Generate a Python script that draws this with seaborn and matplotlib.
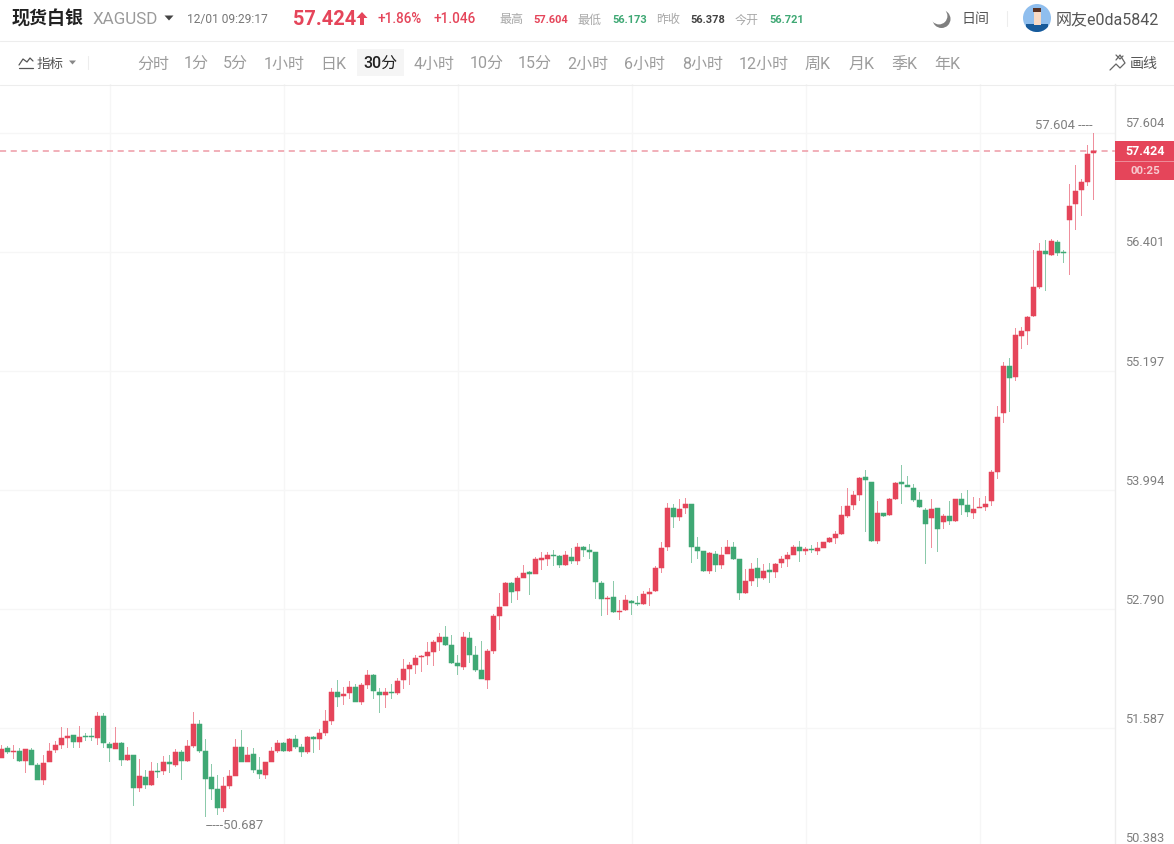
import numpy as np
import pandas as pd
import matplotlib
matplotlib.use("Agg")
import matplotlib.pyplot as plt
from matplotlib.patches import Rectangle, Circle, Polygon
import seaborn as sns

opens = [51.29,51.39,51.35,51.36,51.26,51.37,51.21,51.06,51.24,51.37,
 51.42,51.49,51.52,51.45,51.505,51.51,51.49,51.71,51.43,51.38,
 51.44,51.27,51.32,50.98,51.09,51.01,51.155,51.15,51.24,51.21,
 51.35,51.26,51.41,51.63,51.36,51.09,50.97,50.78,51.00,51.10,
 51.40,51.25,51.33,51.16,51.11,51.24,51.36,51.44,51.36,51.48,
 51.40,51.35,51.50,51.48,51.54,51.66,51.95,51.91,51.94,52.00,
 51.85,52.02,52.12,51.95,51.92,51.955,51.94,52.07,52.19,52.23,
 52.31,52.32,52.36,52.46,52.51,52.43,52.25,52.21,52.50,52.325,
 52.17,52.07,52.37,52.72,52.82,53.05,52.97,53.11,53.17,53.15,
 53.29,53.30,53.34,53.33,53.24,53.315,53.28,53.42,53.39,53.37,
 53.056,52.89,52.915,52.76,52.78,52.87,52.85,52.84,52.945,52.97,
 53.21,53.42,53.81,53.72,53.81,53.85,53.42,53.375,53.18,53.35,
 53.24,53.35,53.42,53.295,52.95,53.075,53.21,53.11,53.19,53.17,
 53.26,53.30,53.34,53.42,53.38,53.40,53.375,53.41,53.47,53.51,
 53.55,53.73,53.84,53.94,54.13,54.08,53.48,53.76,53.74,53.90,
 54.08,54.05,54.01,53.89,53.79,53.71,53.81,53.67,53.73,53.68,
 53.90,53.84,53.76,53.81,53.82,53.88,54.18,54.775,55.25,55.135,
 55.55,55.60,55.75,56.045,56.41,56.37,56.50,56.40,56.725,56.885,
 57.03,57.11,57.40]
closes = [51.38,51.35,51.36,51.26,51.38,51.21,51.06,51.23,51.36,51.42,
 51.49,51.51,51.45,51.50,51.495,51.50,51.71,51.44,51.39,51.44,
 51.27,51.32,50.98,51.10,51.01,51.15,51.145,51.24,51.22,51.35,
 51.26,51.41,51.63,51.36,51.07,50.97,50.78,51.00,51.10,51.40,
 51.24,51.32,51.16,51.12,51.24,51.36,51.44,51.36,51.48,51.40,
 51.35,51.50,51.48,51.54,51.66,51.95,51.90,51.93,52.00,51.85,
 52.02,52.12,51.96,51.92,51.95,51.945,52.06,52.19,52.23,52.30,
 52.32,52.355,52.46,52.51,52.43,52.25,52.22,52.51,52.33,52.17,
 52.08,52.37,52.72,52.81,53.05,52.96,53.10,53.16,53.15,53.295,
 53.305,53.34,53.33,53.24,53.34,53.28,53.42,53.39,53.37,53.06,
 52.89,52.905,52.76,52.77,52.88,52.85,52.84,52.94,52.96,53.21,
 53.41,53.81,53.72,53.80,53.85,53.42,53.38,53.18,53.36,53.24,
 53.34,53.42,53.30,52.95,53.07,53.20,53.11,53.18,53.17,53.25,
 53.295,53.335,53.42,53.38,53.40,53.39,53.41,53.47,53.51,53.55,
 53.74,53.83,53.94,54.12,54.10,53.48,53.76,53.73,53.90,54.07,
 54.06,54.02,53.89,53.82,53.65,53.80,53.605,53.73,53.68,53.90,
 53.84,53.77,53.80,53.82,53.855,54.18,54.73,55.25,55.13,55.56,
 55.60,55.745,56.05,56.41,56.385,56.51,56.395,56.39,56.87,57.02,
 57.105,57.39,57.424]
highs = [51.42,51.41,51.42,51.39,51.38,51.39,51.23,51.32,51.44,51.46,
 51.60,51.59,51.52,51.61,51.54,51.59,51.75,51.74,51.445,51.60,
 51.45,51.40,51.32,51.28,51.16,51.24,51.23,51.31,51.32,51.38,
 51.37,51.47,51.75,51.67,51.48,51.22,51.11,51.09,51.16,51.475,
 51.57,51.40,51.39,51.30,51.24,51.40,51.465,51.45,51.485,51.52,
 51.43,51.51,51.51,51.58,51.775,51.99,52.07,52.00,52.06,52.03,
 52.04,52.17,52.13,51.99,51.99,52.035,52.09,52.29,52.26,52.33,
 52.33,52.46,52.48,52.55,52.62,52.53,52.33,52.56,52.56,52.42,
 52.47,52.39,52.74,52.95,53.06,53.06,53.13,53.24,53.18,53.32,
 53.37,53.37,53.39,53.34,53.38,53.41,53.46,53.43,53.45,53.37,
 53.07,52.92,53.07,52.885,52.935,52.88,52.92,52.97,53.00,53.23,
 53.47,53.86,53.85,53.90,53.91,53.85,53.52,53.38,53.37,53.375,
 53.42,53.49,53.47,53.30,53.20,53.26,53.305,53.25,53.26,53.26,
 53.33,53.365,53.44,53.48,53.42,53.44,53.47,53.47,53.52,53.58,
 53.83,54.01,53.985,54.13,54.20,54.08,53.88,53.76,53.91,54.08,
 54.25,54.14,54.06,53.97,53.81,53.90,53.81,53.75,53.88,53.90,
 53.96,53.99,53.925,53.91,53.935,54.20,54.84,55.29,55.33,55.63,
 55.64,55.75,56.42,56.49,56.52,56.53,56.52,56.42,57.09,57.28,
 57.14,57.48,57.604]
lows = [51.29,51.33,51.28,51.24,51.13,51.21,51.06,51.01,51.24,51.34,
 51.38,51.39,51.39,51.39,51.46,51.46,51.42,51.39,51.25,51.38,
 51.20,51.26,50.80,50.94,50.97,51.00,51.08,51.11,51.13,51.19,
 51.06,51.25,51.39,51.34,50.687,50.86,50.71,50.74,50.97,51.10,
 51.24,51.24,51.13,51.07,51.07,51.24,51.34,51.35,51.35,51.38,
 51.30,51.33,51.34,51.37,51.51,51.62,51.80,51.82,51.88,51.85,
 51.82,51.98,51.88,51.74,51.79,51.88,51.92,51.98,52.025,52.13,
 52.15,52.23,52.22,52.37,52.42,52.24,52.12,52.17,52.25,52.15,
 52.08,51.98,52.34,52.58,52.82,52.85,52.88,53.10,52.935,53.15,
 53.19,53.23,53.23,53.21,53.225,53.245,53.24,53.32,53.30,52.89,
 52.72,52.73,52.75,52.685,52.77,52.73,52.82,52.83,52.82,52.96,
 53.16,53.375,53.615,53.68,53.75,53.26,53.30,53.17,53.15,53.17,
 53.20,53.35,53.29,52.88,52.94,53.02,53.01,53.08,53.05,53.11,
 53.21,53.22,53.34,53.27,53.34,53.36,53.34,53.41,53.46,53.45,
 53.54,53.71,53.79,53.88,53.57,53.47,53.45,53.72,53.73,53.89,
 53.85,54.02,53.87,53.81,53.25,53.41,53.37,53.60,53.64,53.675,
 53.74,53.72,53.70,53.81,53.78,53.83,54.11,54.67,54.78,55.10,
 55.42,55.465,55.74,56.03,56.01,56.36,56.365,56.29,56.17,56.62,
 56.76,57.07,56.93]

axis_ticks = [57.604, 56.401, 55.197, 53.994, 52.790, 51.587, 50.383]
session_marks = [18, 47, 76, 105, 134, 163]
tabs = ["分时","1分","5分","1小时","日K","30分","4小时","10分","15分","2小时",
        "6小时","8小时","12小时","周K","月K","季K","年K"]
tab_centers = [153,196,235.5,284,333.5,380,434.5,487,535,587.5,644.5,702.5,763.5,817.5,861.5,904.5,947.5]

RED = "#E5455A"
GREEN = "#3FA874"
GRID = "#F6F6F6"
LINE = "#EDEDED"
FONT = ["Roboto", "Noto Sans CJK SC", "DejaVu Sans"]

sns.set_theme(style="white")
plt.rcParams["font.family"] = FONT

W, H = 1174, 845
fig = plt.figure(figsize=(W / 100, H / 100), dpi=100, facecolor="white")

# Chart panel
ax = fig.add_axes([0, 0, 1115 / W, (H - 85) / H], facecolor="white")
df = pd.DataFrame({"k": np.arange(len(opens)), "open": opens, "close": closes,
                   "high": highs, "low": lows})
df["up"] = df["close"] >= df["open"]
df["bot"] = df[["open", "close"]].min(axis=1)
df["span"] = (df["open"] - df["close"]).abs()
df["range"] = df["high"] - df["low"]

for up, colour in [(True, RED), (False, GREEN)]:
    s = df[df["up"] == up]
    sns.barplot(x=s["k"].to_numpy(), y=s["range"].to_numpy(), bottom=s["low"].to_numpy(),
                native_scale=True, width=0.2, color=colour, saturation=1, alpha=0.6,
                errorbar=None, linewidth=0, ax=ax, zorder=3)
    sns.barplot(x=s["k"].to_numpy(), y=s["span"].to_numpy(), bottom=s["bot"].to_numpy(),
                native_scale=True, width=0.82, color=colour, saturation=1,
                errorbar=None, linewidth=0.35, edgecolor=colour, ax=ax, zorder=4)

last = closes[-1]
ax.axhline(last, color="#EE9AA5", lw=1.1, ls=(0, (4, 3)), zorder=2)
ax.set_xticks(session_marks)
ax.set_yticks(axis_ticks)
ax.set_xticklabels([])
ax.set_yticklabels([])
ax.set_xlim(-1.67 / 6, (1115 - 1.67) / 6)
ax.set_ylim(50.416, 58.099)
ax.tick_params(length=0)
ax.grid(True, color=GRID, lw=1)
ax.set_axisbelow(True)
ax.set_xlabel("")
ax.set_ylabel("")
sns.despine(ax=ax, left=True, bottom=True, top=True, right=False)
ax.spines["right"].set_color(LINE)
ax.spines["right"].set_linewidth(1)

for v in axis_ticks:
    ax.annotate(f"{v:.3f}", xy=(1, v), xycoords=("axes fraction", "data"),
                xytext=(7.2, 7.2), textcoords="offset points", ha="left", va="center",
                fontsize=9.2, color="#7F7F7F", annotation_clip=False)

i_hi = int(np.argmax(highs))
ax.annotate(f"{highs[i_hi]:.3f} ----", xy=(i_hi, highs[i_hi]), xytext=(-1, 5.8),
            textcoords="offset points", ha="right", va="center", fontsize=9.4, color="#7F7F7F")
i_lo = int(np.argmin(lows))
ax.annotate(f"-----{lows[i_lo]:.3f}", xy=(i_lo, lows[i_lo]), xytext=(0, -5.4),
            textcoords="offset points", ha="left", va="center", fontsize=9.4, color="#7F7F7F")

# Page chrome in pixel coordinates
ov = fig.add_axes([0, 0, 1, 1], facecolor="none", zorder=5)
ov.set_xlim(0, W)
ov.set_ylim(H, 0)
ov.axis("off")

def px(v):
    return v * 0.72

def T(x, y, s, size, color, weight="normal", ha="left"):
    ov.text(x, y, s, fontsize=px(size), color=color, fontweight=weight, ha=ha, va="center")

def tri(x, y, w, h, color):
    ov.add_patch(Polygon([(x - w / 2, y - h / 2), (x + w / 2, y - h / 2), (x, y + h / 2)],
                         closed=True, fc=color, ec="none"))

ov.plot([0, W], [41.5, 41.5], color=LINE, lw=0.8)
ov.plot([0, W], [85.5, 85.5], color=LINE, lw=0.8)

T(12, 19.5, "现货白银", 18, "#222222", "bold")
T(93, 19.5, "XAGUSD", 17, "#9A9A9A")
tri(169, 19, 9, 5, "#444444")
T(187, 19.5, "12/01 09:29:17", 12, "#777777")
T(293, 19.5, f"{last:.3f}", 20, RED, "bold")
ov.add_patch(Polygon([(362, 13), (367.5, 19), (364, 19), (364, 26), (360, 26), (360, 19), (356.5, 19)],
                     closed=True, fc=RED, ec="none"))
T(378, 19, "+1.86%", 13.5, RED, "medium")
T(434, 19, "+1.046", 13.5, RED, "medium")
T(499, 20, "最高", 12, "#A8A8A8")
T(533, 20, "57.604", 11, RED, "bold")
T(577, 20, "最低", 12, "#A8A8A8")
T(612, 20, "56.173", 11, GREEN, "bold")
T(656, 20, "昨收", 12, "#A8A8A8")
T(690, 20, "56.378", 11, "#444444", "bold")
T(735, 20, "今开", 12, "#A8A8A8")
T(769, 20, "56.721", 11, GREEN, "bold")

# Moon icon
ov.add_patch(Circle((941.5, 20), 9, fc="#7F7F7F", ec="none"))
ov.add_patch(Circle((939, 17), 8.4, fc="white", ec="none"))
T(961, 19.5, "日间", 14, "#555555")
ov.plot([1006.5, 1006.5], [12, 27], color=LINE, lw=0.8)

# Avatar
clip = Circle((1037, 19), 14, transform=ov.transData)
ov.add_patch(Circle((1037, 19), 14, fc="#8FBEEE", ec="none"))
body = Rectangle((1026, 25), 22, 10, fc="#175A9A", ec="none")
ov.add_patch(body)
body.set_clip_path(clip)
ov.add_patch(Rectangle((1033.5, 10), 7, 16, fc="#F7D9C4", ec="none"))
ov.add_patch(Rectangle((1033, 8.5), 8, 4, fc="#5A3325", ec="none"))
T(1056, 19.5, "网友e0da5842", 16, "#555555")

# Toolbar
ov.plot([19, 23, 27, 30, 33], [66, 60, 63, 59, 62], color="#555555", lw=0.9)
ov.plot([19, 33], [69, 69], color="#555555", lw=0.9)
T(37, 64, "指标", 13.5, "#555555")
tri(72.5, 63.5, 7, 4, "#888888")
ov.plot([87.5, 87.5], [57, 70], color=LINE, lw=0.8)
ov.add_patch(Rectangle((357, 50), 47, 27, fc="#F5F5F5", ec="none"))
for name, c in zip(tabs, tab_centers):
    active = name == "30分"
    T(c, 64, name, 16, "#222222" if active else "#9C9C9C", "medium" if active else "normal", "center")
ov.plot([1110, 1116, 1120, 1125, 1120, 1116], [71, 65, 69, 64, 56, 61], color="#666666", lw=0.9)
ov.plot([1116, 1120, 1123], [56, 60, 57], color="#666666", lw=0.9)
T(1130, 64, "画线", 14, "#555555")

# Last price tag
ov.add_patch(Rectangle((1115, 142), 59, 39, fc=RED, ec="none"))
ov.plot([1115, 1174], [162, 162], color="#EE8E9B", lw=0.7)
T(1145, 151.5, f"{last:.3f}", 12.5, "white", "bold", "center")
T(1145, 171, "00:25", 11.5, "#F7C9CF", "bold", "center")

fig.savefig("out.png", dpi=100, facecolor="white")
